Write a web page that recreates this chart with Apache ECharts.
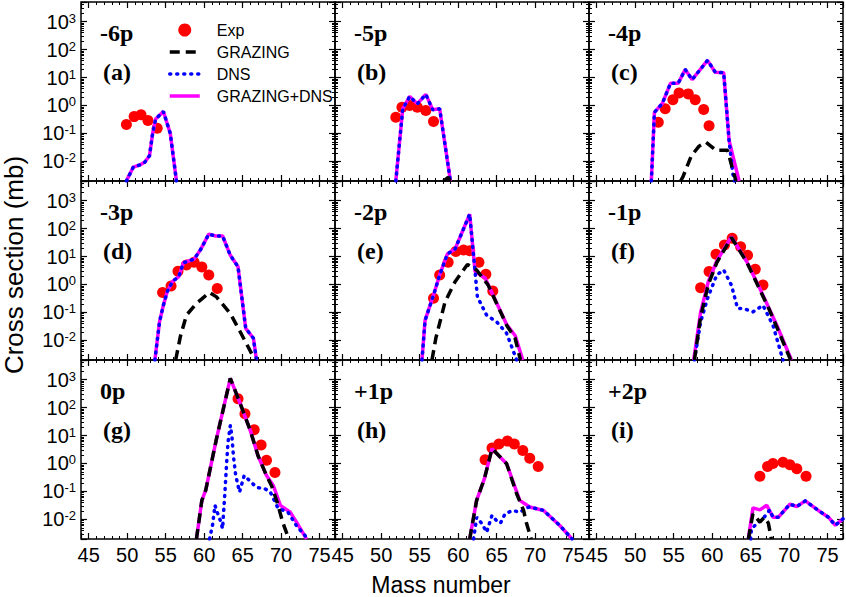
<!DOCTYPE html>
<html><head><meta charset="utf-8">
<script src="https://cdn.jsdelivr.net/npm/echarts@6/dist/echarts.min.js"></script>
<style>html,body{margin:0;padding:0;background:#fff}#c{width:846px;height:597px}</style>
</head><body><div id="c"></div>
<script>
// ---------- data (mass number, cross section mb) ----------
const panelTags = ['-6p','-5p','-4p','-3p','-2p','-1p','0p','+1p','+2p'];
const panelLetters = ['(a)','(b)','(c)','(d)','(e)','(f)','(g)','(h)','(i)'];
const xTicks = [45,50,55,60,65,70,75];

const expA = [[49.9,0.21],[50.9,0.40],[51.8,0.47],[52.7,0.29],[53.9,0.155]];
const grzA = [];
const dnsA = [[49.9,0.002],[50.8,0.0063],[51.7,0.0076],[52.3,0.0095],[52.9,0.016],[53.3,0.098],[53.7,0.33],[54.7,0.61],[55.6,0.10],[56.4,0.002]];
const sumA = [[49.9,0.002],[50.8,0.0063],[51.7,0.0076],[52.3,0.0095],[52.9,0.016],[53.3,0.098],[53.7,0.33],[54.7,0.61],[55.6,0.10],[56.4,0.002]];

const expB = [[51.9,0.38],[52.7,0.87],[53.7,1.0],[54.7,0.87],[55.8,0.66],[56.8,0.27]];
const grzB = [[58.1,0.002],[58.7,0.0027],[59.0,0.002]];
const dnsB = [[51.9,0.002],[52.8,0.76],[53.7,2.1],[54.7,1.15],[55.8,2.5],[56.7,0.7],[57.6,0.76],[59.0,0.002]];
const sumB = [[51.9,0.002],[52.8,0.76],[53.7,2.1],[54.7,1.15],[55.8,2.5],[56.7,0.7],[57.6,0.76],[59.0,0.002]];

const expC = [[53.0,0.25],[53.9,0.76],[54.9,1.6],[55.7,2.8],[56.9,2.6],[57.8,1.6],[58.9,0.72],[59.6,0.19]];
const grzC = [[55.9,0.002],[56.2,0.0028],[57.3,0.016],[58.3,0.035],[59.2,0.049],[60.5,0.025],[62.0,0.025],[62.7,0.0048],[63.1,0.002]];
const dnsC = [[52.1,0.002],[52.5,0.57],[53.5,1.15],[54.6,6.3],[55.6,6.3],[56.5,19.4],[57.4,8.4],[59.4,41],[60.4,15.5],[61.5,14.8],[62.2,0.056],[62.7,0.0035],[62.9,0.002]];
const sumC = [[52.1,0.002],[52.5,0.57],[53.5,1.15],[54.6,6.3],[55.6,6.3],[56.5,19.4],[57.4,8.4],[59.4,41],[60.4,15.5],[61.5,14.8],[62.2,0.056],[63.5,0.002]];

const expD = [[54.6,0.52],[55.7,0.89],[56.6,3.0],[57.7,5.0],[58.7,6.2],[59.7,4.2],[60.6,2.2],[61.7,0.72]];
const grzD = [[56.3,0.002],[56.9,0.0135],[57.7,0.08],[59.0,0.21],[60.7,0.52],[61.6,0.36],[63.4,0.092],[64.7,0.02],[66.6,0.002]];
const dnsD = [[53.6,0.002],[54.2,0.046],[54.7,0.18],[55.2,0.55],[55.9,1.3],[56.7,1.9],[57.3,6.0],[58.7,8.1],[59.5,17],[60.6,63],[61.5,54],[62.4,54],[63.4,11],[64.4,4.3],[65.4,0.027],[66.4,0.012],[66.8,0.002]];
const sumD = [[53.6,0.002],[54.2,0.046],[54.7,0.18],[55.2,0.55],[55.9,1.3],[56.7,1.9],[57.3,6.0],[58.7,8.1],[59.5,17],[60.6,63],[61.5,54],[62.4,54],[63.4,11],[64.4,4.3],[65.4,0.027],[66.4,0.012],[66.8,0.002]];

const expE = [[56.8,0.32],[57.6,2.2],[58.7,6.2],[59.7,15],[60.7,17],[61.5,16],[62.7,6.2],[63.6,2.3],[64.5,0.58]];
const grzE = [[56.6,0.002],[57.1,0.012],[58.3,0.24],[59.6,1.26],[61.2,5.2],[62.4,3.3],[63.9,0.95],[65.0,0.21],[66.3,0.035],[67.4,0.012],[68.1,0.002]];
const dnsE = [[55.3,0.002],[55.7,0.052],[56.8,0.42],[57.6,2.2],[58.6,12.3],[59.6,18.6],[61.5,325],[62.2,2.9],[62.5,0.36],[63.7,0.08],[65.0,0.046],[66.3,0.018],[67.6,0.002]];
const sumE = [[55.3,0.002],[55.7,0.052],[56.8,0.42],[57.6,2.2],[58.6,12.3],[59.6,18.6],[61.5,325],[62.2,2.9],[63.5,1.7],[66.3,0.037],[67.4,0.015],[68.4,0.002]];

const expF = [[58.5,0.76],[59.6,2.9],[60.5,12],[61.6,26],[62.6,45],[63.7,22.4],[64.6,11],[65.6,3.5],[66.6,0.95]];
const grzF = [[57.7,0.002],[58.5,0.07],[59.5,1.0],[60.6,6.0],[62.5,48],[64.5,6.3],[66.2,0.65],[67.3,0.15],[68.4,0.03],[70.2,0.002]];
const dnsF = [[57.7,0.002],[58.5,0.046],[59.4,0.32],[60.6,2.2],[61.5,3.3],[62.5,0.95],[63.3,0.14],[64.0,0.14],[65.3,0.105],[66.6,0.18],[67.9,0.035],[69.2,0.002]];
const sumF = [[57.6,0.002],[58.5,0.10],[59.5,1.26],[60.6,6.9],[62.5,51],[64.5,6.5],[66.2,0.72],[68.4,0.035],[70.3,0.002]];

const expG = [[64.4,205],[65.3,60],[66.5,16],[67.4,4.6],[68.1,1.3],[69.2,0.48]];
const grzG = [[59.0,0.002],[59.7,0.048],[60.2,0.11],[61.6,7.6],[63.4,1100],[64.7,135],[66.0,15],[67.0,1.9],[68.1,0.37],[68.8,0.15],[69.5,0.04],[70.2,0.008],[71.0,0.002]];
const dnsG = [[60.7,0.002],[60.85,0.0031],[61.1,0.0065],[61.4,0.032],[61.7,0.018],[62.1,0.0092],[62.4,0.0047],[62.5,0.014],[62.7,0.095],[62.9,0.85],[63.1,5.8],[63.4,23],[63.6,10],[63.8,1.9],[64.1,0.37],[64.6,0.095],[65.2,0.37],[66.0,0.23],[66.8,0.14],[67.9,0.125],[68.6,0.095],[69.6,0.025],[70.9,0.018],[72.1,0.0054],[73.1,0.0027],[73.3,0.002]];
const sumG = [[59.0,0.002],[59.7,0.048],[60.2,0.11],[61.6,7.6],[63.4,1100],[64.7,135],[66.0,15],[67.0,1.9],[68.1,0.37],[69.0,0.16],[69.9,0.032],[71.2,0.018],[72.0,0.008],[73.1,0.0025],[73.3,0.002]];

const expH = [[63.5,1.35],[64.4,3.6],[65.3,5.0],[66.4,6.3],[67.3,5.0],[68.4,2.9],[69.3,1.55],[70.4,0.78]];
const grzH = [[61.5,0.002],[62.4,0.048],[63.4,0.28],[64.4,3.4],[66.3,0.98],[67.6,0.083],[68.5,0.021],[68.9,0.007],[69.5,0.002]];
const dnsH = [[62.0,0.002],[62.2,0.0047],[62.4,0.012],[63.1,0.007],[63.7,0.0035],[64.4,0.014],[65.0,0.009],[65.5,0.0074],[66.1,0.016],[67.1,0.021],[68.0,0.018],[68.9,0.026],[69.3,0.028],[71.1,0.021],[73.2,0.0061],[74.8,0.002]];
const sumH = [[61.5,0.002],[62.4,0.048],[63.4,0.28],[64.4,3.4],[66.3,0.98],[68.0,0.048],[69.3,0.028],[71.1,0.021],[73.2,0.0061],[74.8,0.002]];

const expI = [[66.2,0.35],[67.2,0.78],[67.9,1.0],[69.2,1.1],[70.1,0.9],[71.0,0.65],[72.2,0.35]];
const grzI = [[64.7,0.002],[65.3,0.016],[66.2,0.0081],[66.8,0.012],[67.3,0.0074],[67.7,0.002]];
const dnsI = [[65.0,0.002],[65.1,0.0047],[65.8,0.007],[66.6,0.0105],[67.1,0.016],[67.5,0.022],[67.9,0.012],[68.6,0.012],[70.1,0.035],[71.0,0.029],[72.1,0.046],[73.8,0.021],[75.1,0.012],[76.0,0.0062],[77.0,0.0105]];
const sumI = [[64.7,0.002],[65.3,0.026],[66.2,0.022],[67.1,0.032],[67.9,0.012],[68.6,0.012],[70.1,0.035],[71.0,0.029],[72.1,0.046],[73.8,0.021],[75.1,0.012],[76.0,0.0062],[77.0,0.0105]];

const expAll = [expA,expB,expC,expD,expE,expF,expG,expH,expI];
const grzAll = [grzA,grzB,grzC,grzD,grzE,grzF,grzG,grzH,grzI];
const dnsAll = [dnsA,dnsB,dnsC,dnsD,dnsE,dnsF,dnsG,dnsH,dnsI];
const sumAll = [sumA,sumB,sumC,sumD,sumE,sumF,sumG,sumH,sumI];

// ---------- layout ----------
const colLeft = [81, 335, 589], rowTop = [2, 181, 360], W = 254, H = 179;
const SANS = '"Liberation Sans", Arial, sans-serif';
const SERIF = '"Liberation Serif", "Times New Roman", serif';

const grids = [], xAxes = [], yAxes = [], series = [], graphics = [];
const tickCommon = {inside: true, length: 6, lineStyle: {color: '#000', width: 1.2}};
const minorX = {show: true, splitNumber: 5, length: 3, lineStyle: {color: '#000', width: 1}};
const minorY = {show: true, splitNumber: 9, length: 3, lineStyle: {color: '#000', width: 1}};

for (let k = 0; k < 9; k++) {
  const r = Math.floor(k / 3), c = k % 3;
  grids.push({left: colLeft[c], top: rowTop[r], width: W, height: H, show: true,
    borderColor: '#000', borderWidth: 1.5, backgroundColor: 'transparent', containLabel: false});
  const xBase = {gridIndex: k, type: 'value', min: 44, max: 77,
    axisLine: {show: false}, splitLine: {show: false}, axisTick: tickCommon, minorTick: minorX};
  xAxes.push(Object.assign({}, xBase, {position: 'bottom',
    axisLabel: {show: r === 2, showMinLabel: false, showMaxLabel: false, fontSize: 20,
      fontFamily: SANS, color: '#000', margin: 6,
      formatter: v => xTicks.indexOf(v) >= 0 ? String(v) : ''}}));
  xAxes.push(Object.assign({}, xBase, {position: 'top', axisLabel: {show: false}}));
  const yBase = {gridIndex: k, type: 'log', logBase: 10, min: 0.002, max: 5000,
    axisLine: {show: false}, splitLine: {show: false}, axisTick: tickCommon, minorTick: minorY};
  yAxes.push(Object.assign({}, yBase, {position: 'left',
    axisLabel: {show: c === 0, showMinLabel: false, showMaxLabel: false, color: '#000', margin: 5,
      fontSize: 20, fontFamily: SANS,
      formatter: v => '10{s|' + Math.round(Math.log10(v)) + '}',
      rich: {s: {fontSize: 13, fontFamily: SANS, color: '#000', verticalAlign: 'top', lineHeight: 12, padding: [0, 0, 8, 0]}}}}));
  yAxes.push(Object.assign({}, yBase, {position: 'right', axisLabel: {show: false}}));

  series.push({type: 'scatter', name: 'Exp', xAxisIndex: 2 * k, yAxisIndex: 2 * k, data: expAll[k],
    symbolSize: 11, itemStyle: {color: '#ff0000', opacity: 1}, z: 2});
  series.push({type: 'line', name: 'GRAZING+DNS', xAxisIndex: 2 * k, yAxisIndex: 2 * k, data: sumAll[k],
    symbol: 'none', itemStyle: {color: '#ff00ff'}, lineStyle: {color: '#ff00ff', width: 3.5}, z: 3});
  series.push({type: 'line', name: 'DNS', xAxisIndex: 2 * k, yAxisIndex: 2 * k, data: dnsAll[k],
    symbol: 'none', itemStyle: {color: '#0000ff'}, lineStyle: {color: '#0000ff', width: 3.5, type: [1, 6], cap: 'round'}, z: 4});
  series.push({type: 'line', name: 'GRAZING', xAxisIndex: 2 * k, yAxisIndex: 2 * k, data: grzAll[k],
    symbol: 'none', itemStyle: {color: '#000'}, lineStyle: {color: '#000', width: 3.5, type: [10, 6]}, z: 5});

  graphics.push({type: 'text', x: colLeft[c] + 19, y: rowTop[r] + 31,
    style: {text: panelTags[k], font: 'bold 24px ' + SERIF, fill: '#000', verticalAlign: 'middle'}});
  graphics.push({type: 'text', x: colLeft[c] + 22, y: rowTop[r] + 70,
    style: {text: panelLetters[k], font: 'bold 24px ' + SERIF, fill: '#000', verticalAlign: 'middle'}});
}
graphics.push({type: 'text', x: 441, y: 585,
  style: {text: 'Mass number', font: '23px ' + SANS, fill: '#000', align: 'center', verticalAlign: 'middle'}});
graphics.push({type: 'text', x: 14, y: 265, rotation: Math.PI / 2,
  style: {text: 'Cross section (mb)', font: '26px ' + SANS, fill: '#000', align: 'center', verticalAlign: 'middle'}});

const hidden = {opacity: 0};
const chart = echarts.init(document.getElementById('c'), null, {renderer: 'svg'});
chart.setOption({
  animation: false,
  backgroundColor: '#fff',
  grid: grids, xAxis: xAxes, yAxis: yAxes, series: series, graphic: graphics,
  legend: {data: [{name: 'Exp', itemStyle: {opacity: 1}}, {name: 'GRAZING', itemStyle: hidden}, {name: 'DNS', itemStyle: hidden},
      {name: 'GRAZING+DNS', itemStyle: hidden}],
    orient: 'vertical', left: 163, top: 17,
    itemWidth: 30, itemHeight: 13, itemGap: 6, selectedMode: false,
    lineStyle: {width: 3.5},
    textStyle: {fontSize: 16, fontFamily: SANS, color: '#000', padding: [0, 0, 0, 12], lineHeight: 13}}
});
</script></body></html>
